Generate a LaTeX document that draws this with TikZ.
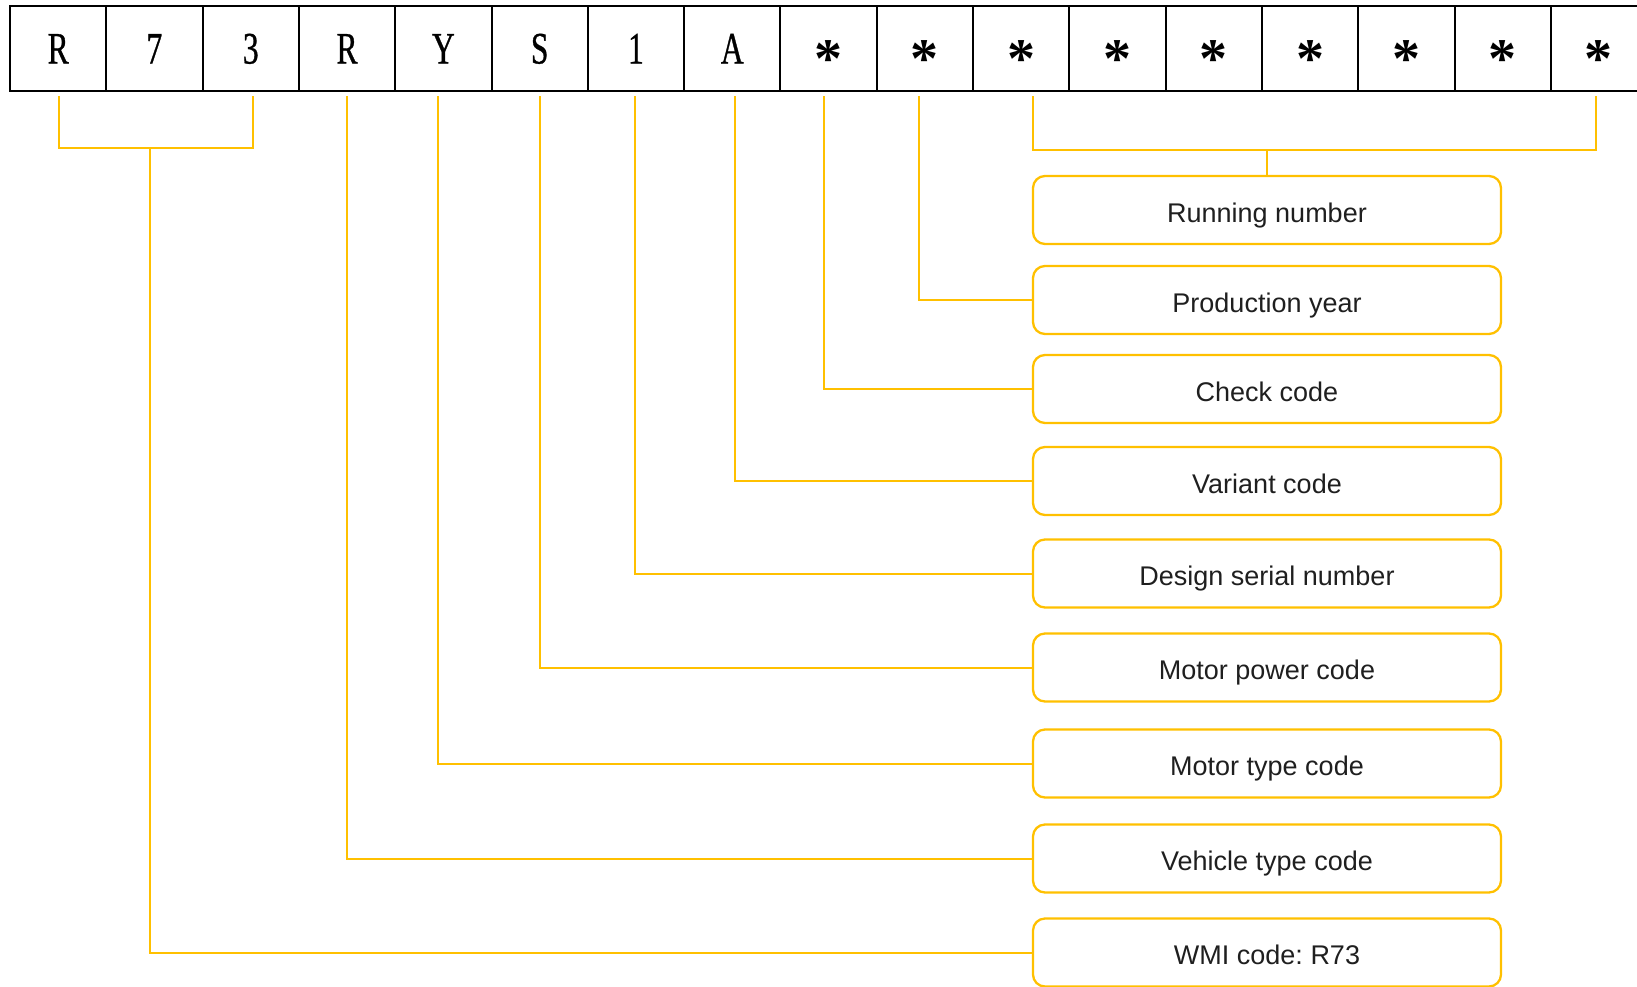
\documentclass[tikz,border=0pt]{standalone}
\usepackage{fontspec}
\setmainfont{Liberation Sans}
\newfontfamily\cellfont[FakeStretch=0.7,FakeBold=0.7]{Liberation Serif}
\newfontfamily\starfont{Liberation Serif}
\definecolor{gold}{HTML}{FFC000}
\newcommand\astx{{\starfont\bfseries\fontsize{56}{56}\selectfont\raisebox{-14pt}{*}}}
\begin{document}
\begin{tikzpicture}[x=1pt,y=-1pt,
  cell/.style={draw=black, line width=2pt, minimum width=96.3pt, minimum height=85pt,
    inner sep=0pt, text height=30pt, text depth=0pt,
    font=\cellfont\fontsize{45}{45}\selectfont},
  lbl/.style={draw=gold, line width=2.3pt, rounded corners=12pt, minimum width=468pt,
    minimum height=68pt, inner sep=0pt, text height=24pt, text depth=0pt,
    font=\fontsize{27}{27}\selectfont, text=black!88},
  link/.style={draw=gold, line width=2pt}]
\useasboundingbox (0,0) rectangle (1637,986);
% code cells
\foreach \t [count=\i] in {R,7,3,R,Y,S,1,A}
  \node[cell] (c\i) at ({10+96.3*(\i-0.5)},48.5) {\t};
\foreach \i in {9,...,17}
  \node[cell] (c\i) at ({10+96.3*(\i-0.5)},48.5) {\astx};
% label boxes
\node[lbl] (run)  at (1267,210)   {Running number};
\node[lbl] (prod) at (1267,300)   {Production year};
\node[lbl] (chk)  at (1267,389)   {Check code};
\node[lbl] (var)  at (1267,481)   {Variant code};
\node[lbl] (des)  at (1267,573.5) {Design serial number};
\node[lbl] (mpw)  at (1267,667.5) {Motor power code};
\node[lbl] (mty)  at (1267,763.5) {Motor type code};
\node[lbl] (veh)  at (1267,858.5) {Vehicle type code};
\node[lbl] (wmi)  at (1267,952.5) {WMI code:\ R73};
% leg tops
\coordinate (t1) at (58.7,96);
\coordinate (t3) at (253,96);
\coordinate (t4) at (347,96);
\coordinate (t5) at (438,96);
\coordinate (t6) at (540,96);
\coordinate (t7) at (635,96);
\coordinate (t8) at (735,96);
\coordinate (t9) at (824,96);
\coordinate (t10) at (919,96);
\coordinate (t11) at (1033,96);
\coordinate (t17) at (1596,96);
\coordinate (bl) at (58.7,148);
\coordinate (br) at (253,148);
\coordinate (jA) at (150,148);
\coordinate (rl) at (1033,150);
\coordinate (rr) at (1596,150);
\coordinate (jB) at (1267,150);
% connectors
\draw[link] (t1) -- (bl) -- (br) -- (t3);
\draw[link] (jA) |- (wmi.west);
\draw[link] (t4) |- (veh.west);
\draw[link] (t5) |- (mty.west);
\draw[link] (t6) |- (mpw.west);
\draw[link] (t7) |- (des.west);
\draw[link] (t8) |- (var.west);
\draw[link] (t9) |- (chk.west);
\draw[link] (t10) |- (prod.west);
\draw[link] (t11) -- (rl) -- (rr) -- (t17);
\draw[link] (jB) -- (run.north);
\end{tikzpicture}
\end{document}
